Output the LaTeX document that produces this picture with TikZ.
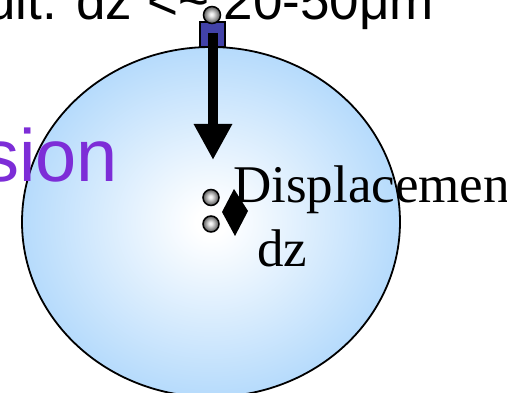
\documentclass[tikz,border=0pt]{standalone}
\usepackage{fontspec}
\setmainfont{Liberation Serif}
\newfontfamily\arialfont{Liberation Sans}
\usetikzlibrary{arrows.meta}
\definecolor{ltblue}{RGB}{166,211,251}
\definecolor{sensorblue}{RGB}{66,66,168}
\definecolor{purp}{RGB}{125,45,215}
\pgfdeclareradialshading{bubble}{\pgfpoint{0bp}{0bp}}{color(0bp)=(white); color(2bp)=(white); color(30bp)=(ltblue); color(50bp)=(ltblue)}
\pgfdeclareradialshading{pearl}{\pgfpoint{-2bp}{2bp}}{color(0bp)=(white); color(6bp)=(white!90!black); color(16bp)=(black!40); color(24bp)=(black!65); color(50bp)=(black!65)}
\tikzset{
  ballstyle/.style={circle, minimum size=16pt, inner sep=0pt, shading=pearl, draw=black, line width=1.5pt},
  lbl/.style={inner sep=0pt, anchor=base west},
}
\begin{document}
\begin{tikzpicture}[x=1pt,y=-1pt]
\useasboundingbox (0,0) rectangle (507,393);
\clip (0,0) rectangle (507,393);
% drop
\path[shading=bubble, draw=black, line width=1.8pt] (211,222) ellipse [x radius=189, y radius=175];
% texts
\node[lbl, font=\arialfont\fontsize{53}{60}\selectfont] (top) at (-14,20) {uit. dz <\textasciitilde{} 20-50μm};
\node[lbl, font=\arialfont\fontsize{74}{80}\selectfont, text=purp] (sion) at (-18,182) {sion};
\node[lbl, font=\fontsize{53}{60}\selectfont] (disp) at (233,203) {Displacemen};
\node[lbl, font=\fontsize{53}{60}\selectfont] (dz) at (257,267) {dz};
% sensor
\node[draw=black, fill=sensorblue, line width=1.3pt, minimum width=25pt, minimum height=25pt, inner sep=0pt] (sensor) at (212.5,34.5) {};
\node[ballstyle, minimum size=17pt] (b0) at (212,15) {};
\coordinate (tip) at (213,160);
\draw[line width=10pt, -{Triangle[width=36pt,length=36pt]}] (213,33) -- (tip);
% particles
\node[ballstyle] (b1) at (211,197.5) {};
\node[ballstyle] (b2) at (211,224) {};
\coordinate (dtop) at (234,189);
\coordinate (dright) at (248,211);
\coordinate (dbot) at (235,236);
\coordinate (dleft) at (222,212);
\fill[black] (dtop) -- (dright) -- (dbot) -- (dleft) -- cycle;
\end{tikzpicture}
\end{document}
